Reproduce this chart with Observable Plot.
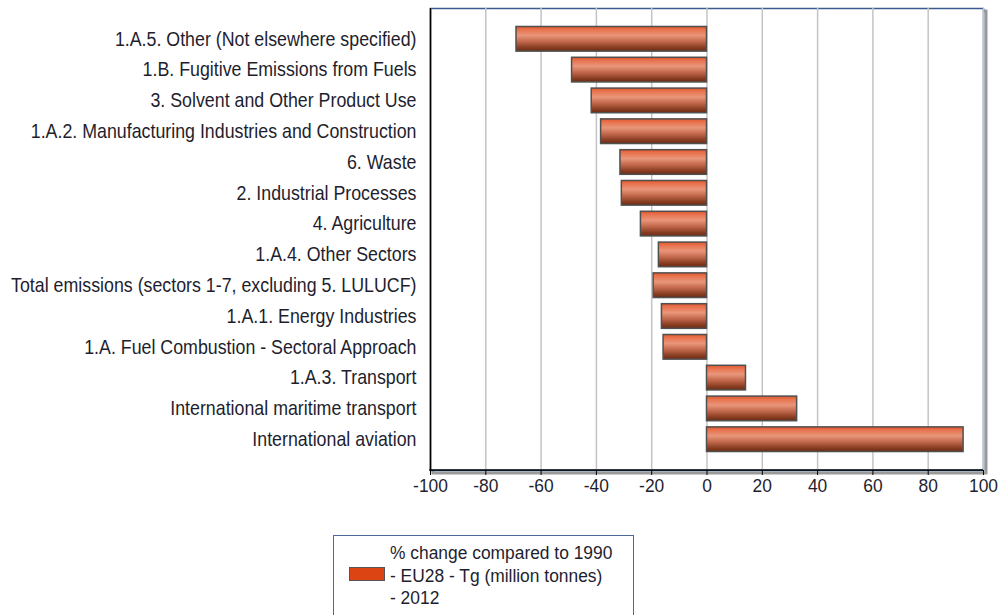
<!DOCTYPE html>
<html><head><meta charset="utf-8">
<script src="https://cdn.jsdelivr.net/npm/d3@7"></script>
<script src="https://cdn.jsdelivr.net/npm/@observablehq/plot@0.6"></script>
<style>
body{margin:0;background:#fff;font-family:"Liberation Sans",Arial,sans-serif;}
#wrap{position:relative;width:998px;height:615px;overflow:hidden;}
#legend{position:absolute;left:333px;top:535px;width:301px;height:100px;border:1.5px solid #4a6a9a;box-sizing:border-box;background:#fff;}
#legend .sw{position:absolute;left:15px;top:31px;width:36px;height:14px;background:#dc4414;border:1.5px solid #555;box-sizing:border-box;}
#legend .tx{position:absolute;left:56px;top:5px;font-size:17.4px;line-height:20.5px;color:#1e1e2e;transform:scaleY(1.1);transform-origin:0 0;white-space:nowrap;}
</style></head>
<body><div id="wrap"><div id="chart"></div><div id="legend"><div class="sw"></div><div class="tx">% change compared to 1990<br>- EU28 - Tg (million tonnes)<br>- 2012</div></div></div>
<script>
const categories = [
  "1.A.5. Other (Not elsewhere specified)",
  "1.B. Fugitive Emissions from Fuels",
  "3. Solvent and Other Product Use",
  "1.A.2. Manufacturing Industries and Construction",
  "6. Waste",
  "2. Industrial Processes",
  "4. Agriculture",
  "1.A.4. Other Sectors",
  "Total emissions (sectors 1-7, excluding 5. LULUCF)",
  "1.A.1. Energy Industries",
  "1.A. Fuel Combustion - Sectoral Approach",
  "1.A.3. Transport",
  "International maritime transport",
  "International aviation"
];
const values = [-68.9, -48.8, -41.7, -38.3, -31.3, -30.8, -23.9, -17.4, -19.3, -16.3, -15.7, 14.1, 32.6, 92.8];
const xTicks = [-100, -80, -60, -40, -20, 0, 20, 40, 60, 80, 100];
const seriesName = "% change compared to 1990 - EU28 - Tg (million tonnes) - 2012";

const data = categories.map((c, i) => ({category: c, value: values[i]}));

const defs = () => {
  const d = d3.create("svg:defs");
  const g = d.append("linearGradient").attr("id", "barGrad").attr("x1", 0).attr("y1", 0).attr("x2", 0).attr("y2", 1);
  [[0, "#e2552a"], [0.12, "#e8714c"], [0.36, "#e9967a"], [0.6, "#c46a4e"], [0.85, "#8a3e22"], [1, "#6a2c14"]]
    .forEach(([o, c]) => g.append("stop").attr("offset", o).attr("stop-color", c));
  return d.node();
};

const bottomLine = (index, scales, values, dims) => {
  const y = dims.height - dims.marginBottom;
  return d3.create("svg:line")
    .attr("x1", dims.marginLeft - 0.75).attr("x2", dims.width - dims.marginRight)
    .attr("y1", y).attr("y2", y)
    .attr("stroke", "#000").attr("stroke-width", 1.5).node();
};

const chart = Plot.plot({
  width: 998,
  height: 510,
  marginLeft: 430,
  marginRight: 15,
  marginTop: 8,
  marginBottom: 40,
  style: {fontFamily: "Liberation Sans, Arial, sans-serif", color: "#1e1e2e", background: "#fff"},
  x: {domain: [-100, 100], ticks: xTicks, label: null},
  y: {domain: categories, label: null, paddingInner: 0.2, paddingOuter: 0.6, round: false},
  marks: [
    defs,
    Plot.frame({stroke: "#9a9a9a", strokeWidth: 3, dx: 2.5, dy: 2.5}),
    Plot.frame({fill: "#fff", stroke: "#3b5b8e", strokeWidth: 1.5}),
    Plot.gridX(xTicks, {stroke: "#c4c4c4", strokeOpacity: 1, strokeWidth: 1.5}),
    Plot.barX(data, {x: "value", y: "category", fill: "url(#barGrad)", stroke: "#505050", strokeWidth: 1.5}),
    Plot.ruleX([-100], {stroke: "#000", strokeWidth: 1.5}),
    bottomLine,
    Plot.axisX({ticks: xTicks, tickSize: 5, tickPadding: 3, fontSize: "17.4px", label: null, tickFormat: d => String(d), stroke: "#000"}),
    Plot.axisY({tickSize: 0, tickPadding: 14, fontSize: "17.8px", label: null})
  ]
});
// slightly taller glyphs, as in the reference
chart.querySelectorAll('g[aria-label$="tick label"] text').forEach(t => {
  const tr = t.getAttribute("transform") || "";
  t.setAttribute("transform", tr + " scale(1,1.1)");
});
document.getElementById("chart").appendChild(chart);
</script></body></html>
